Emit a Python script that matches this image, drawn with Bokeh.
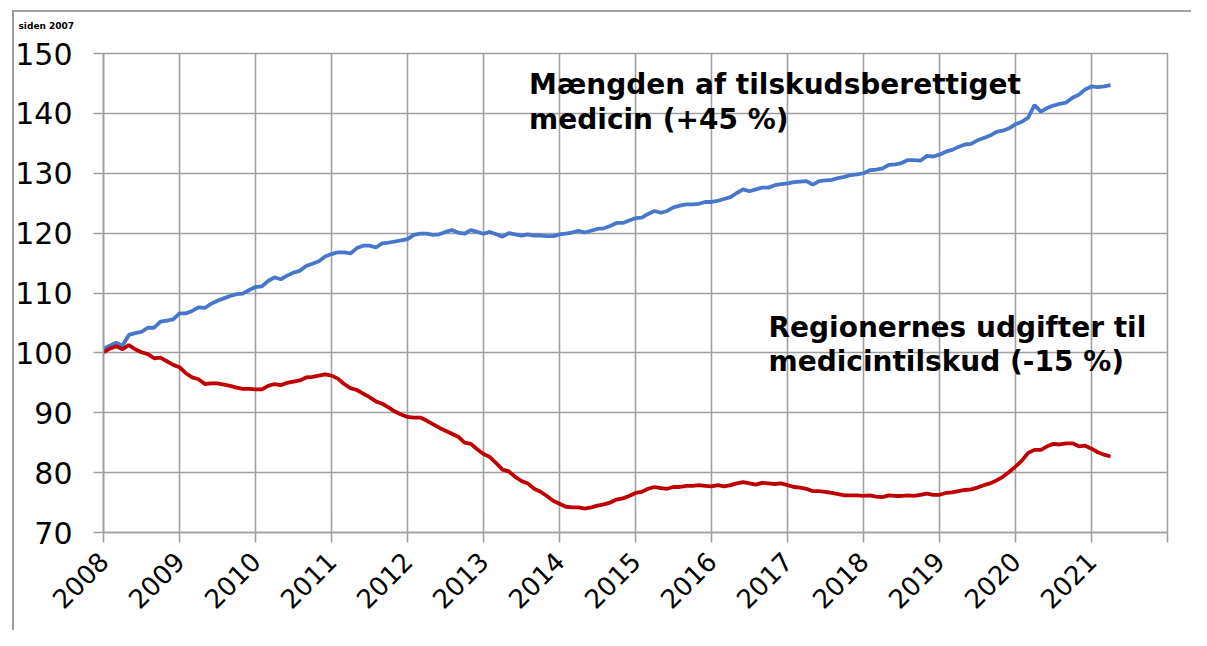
import math
import pandas as pd
from bokeh.plotting import figure
from bokeh.models import Range1d, FixedTicker, Label
from bokeh.embed import file_html
from bokeh.resources import INLINE

# ---------------- data (index, monthly) ----------------
first_month = "2008-01"
mængde = [
    100.7, 101.2, 101.7, 101.2, 103.0, 103.3, 103.5, 104.2, 104.2, 105.2, 105.4, 105.6,  # 2008
    106.6, 106.6, 107.0, 107.6, 107.5, 108.2, 108.7, 109.1, 109.5, 109.8, 109.9, 110.5,  # 2009
    111.0, 111.1, 112.0, 112.6, 112.3, 112.9, 113.4, 113.7, 114.5, 114.9, 115.3, 116.1,  # 2010
    116.5, 116.8, 116.8, 116.6, 117.5, 117.9, 117.9, 117.6, 118.3, 118.4, 118.6, 118.8,  # 2011
    119.0, 119.7, 119.9, 119.9, 119.7, 119.8, 120.2, 120.5, 120.1, 119.9, 120.5, 120.2,  # 2012
    119.9, 120.2, 119.8, 119.4, 120.0, 119.8, 119.6, 119.8, 119.6, 119.6, 119.5, 119.5,  # 2013
    119.8, 119.9, 120.1, 120.4, 120.1, 120.4, 120.7, 120.8, 121.2, 121.7, 121.7, 122.1,  # 2014
    122.5, 122.6, 123.2, 123.7, 123.4, 123.7, 124.3, 124.6, 124.8, 124.8, 124.9, 125.2,  # 2015
    125.2, 125.4, 125.7, 126.0, 126.7, 127.3, 127.0, 127.3, 127.6, 127.6, 128.0, 128.2,  # 2016
    128.3, 128.5, 128.6, 128.7, 128.1, 128.7, 128.8, 128.9, 129.2, 129.4, 129.7, 129.8,  # 2017
    130.0, 130.5, 130.6, 130.8, 131.4, 131.5, 131.7, 132.2, 132.2, 132.1, 132.9, 132.8,  # 2018
    133.1, 133.6, 133.9, 134.4, 134.8, 134.9, 135.5, 135.9, 136.3, 136.9, 137.1, 137.5,  # 2019
    138.2, 138.6, 139.3, 141.4, 140.3, 140.9, 141.3, 141.6, 141.8, 142.6, 143.1, 144.0,  # 2020
    144.5, 144.4, 144.5, 144.7,                                                          # 2021
]
udgifter = [
    100.1, 100.7, 101.1, 100.6, 101.3, 100.6, 100.1, 99.8, 99.1, 99.2, 98.6, 98.0,      # 2008
    97.6, 96.6, 95.9, 95.6, 94.8, 94.9, 94.9, 94.7, 94.5, 94.2, 94.0, 94.0,             # 2009
    93.9, 93.9, 94.5, 94.8, 94.6, 95.0, 95.2, 95.4, 95.9, 96.0, 96.2, 96.4,             # 2010
    96.2, 95.7, 94.8, 94.1, 93.8, 93.2, 92.6, 91.9, 91.5, 90.9, 90.2, 89.7,             # 2011
    89.3, 89.2, 89.2, 88.7, 88.1, 87.5, 87.0, 86.5, 86.0, 85.0, 84.8, 83.9,             # 2012
    83.1, 82.6, 81.6, 80.5, 80.2, 79.3, 78.6, 78.2, 77.3, 76.8, 76.1, 75.3,             # 2013
    74.8, 74.3, 74.2, 74.2, 74.0, 74.2, 74.5, 74.7, 75.0, 75.5, 75.7, 76.1,             # 2014
    76.6, 76.8, 77.3, 77.6, 77.4, 77.3, 77.6, 77.6, 77.8, 77.8, 77.9, 77.8,             # 2015
    77.7, 77.9, 77.7, 77.9, 78.2, 78.4, 78.2, 78.0, 78.3, 78.2, 78.1, 78.2,             # 2016
    77.9, 77.6, 77.5, 77.3, 76.9, 76.9, 76.8, 76.6, 76.4, 76.2, 76.2, 76.2,             # 2017
    76.1, 76.2, 76.0, 75.9, 76.2, 76.1, 76.1, 76.2, 76.1, 76.3, 76.5, 76.3,             # 2018
    76.3, 76.6, 76.7, 76.9, 77.1, 77.2, 77.5, 77.9, 78.2, 78.7, 79.3, 80.1,             # 2019
    81.0, 82.0, 83.3, 83.8, 83.8, 84.4, 84.8, 84.7, 84.9, 84.9, 84.4, 84.5,             # 2020
    84.0, 83.4, 83.0, 82.7,                                                             # 2021
]
years = [str(y) for y in range(2008, 2022)]
y_ticks = [70, 80, 90, 100, 110, 120, 130, 140, 150]
title_tail = "siden 2007"
label_mængde = ["Mængden af tilskudsberettiget", "medicin (+45 %)"]
label_udgifter = ["Regionernes udgifter til", "medicintilskud (-15 %)"]

dates = pd.date_range(first_month, periods=len(mængde), freq="MS")
t = [d.year + (d.month - 1) / 12 for d in dates]

# ---------------- figure ----------------
GRID = "#a0a0a0"
p = figure(width=1191, height=630, output_backend="svg", toolbar_location=None,
           x_range=Range1d(2008, 2022), y_range=Range1d(70, 150),
           min_border_left=103, min_border_right=24, min_border_top=52, min_border_bottom=98)
p.background_fill_color = "white"
p.border_fill_color = None
# outer chart-area border: top and left edges (drawn behind the transparent canvas margin)
p.styles = {
    "background": ("linear-gradient(#a0a0a0, #a0a0a0) 12px 10px / 2px 100% no-repeat, "
                   "linear-gradient(#a0a0a0, #a0a0a0) 12px 10px / 100% 2px no-repeat, white"),
}
p.outline_line_color = GRID
p.outline_line_width = 1.6

# remaining visible part of the chart title
p.title.text = title_tail
p.title.text_font = "DejaVu Sans"
p.title.text_font_style = "bold"
p.title.text_font_size = "9px"
p.title.text_color = "black"
p.title.align = "left"
p.title.vertical_align = "top"
p.title.offset = -85
p.title.standoff = 41

x_tick_vals = [int(y) for y in years] + [int(years[-1]) + 1]
p.xaxis.ticker = FixedTicker(ticks=x_tick_vals)
p.yaxis.ticker = FixedTicker(ticks=y_ticks)
p.xaxis.major_label_overrides = {x_tick_vals[-1]: ""}
p.xgrid.ticker = FixedTicker(ticks=x_tick_vals)
p.ygrid.ticker = FixedTicker(ticks=y_ticks)
for g in (p.xgrid, p.ygrid):
    g.grid_line_color = GRID
    g.grid_line_width = 1.6

for ax in (p.xaxis, p.yaxis):
    ax.axis_line_color = GRID
    ax.axis_line_width = 1.6
    ax.major_tick_line_color = GRID
    ax.major_tick_line_width = 1.6
    ax.major_tick_in = 0
    ax.major_tick_out = 10
    ax.minor_tick_line_color = None
    ax.major_label_text_font = "DejaVu Sans"
    ax.major_label_text_color = "black"

p.yaxis.major_label_text_font_size = "30px"
p.yaxis.major_label_standoff = 21
p.xaxis.major_label_text_font_size = "26px"
p.xaxis.major_label_orientation = math.pi / 4
p.xaxis.major_label_standoff = 14

p.line(t, mængde, line_color="#4677CB", line_width=3.8)
p.line(t, udgifter, line_color="#C00000", line_width=3.8)

def add_lines(lines, x, ys, size="28px"):
    for txt, yy in zip(lines, ys):
        p.add_layout(Label(x=x, y=yy, text=txt, text_font="DejaVu Sans",
                           text_font_style="bold", text_font_size=size,
                           text_color="black", text_baseline="alphabetic"))

add_lines(label_mængde, 2013.6, [144.8, 139.0])
add_lines(label_udgifter, 2016.75, [104.3, 98.5])

open("out.html", "w").write(file_html(p, INLINE))
